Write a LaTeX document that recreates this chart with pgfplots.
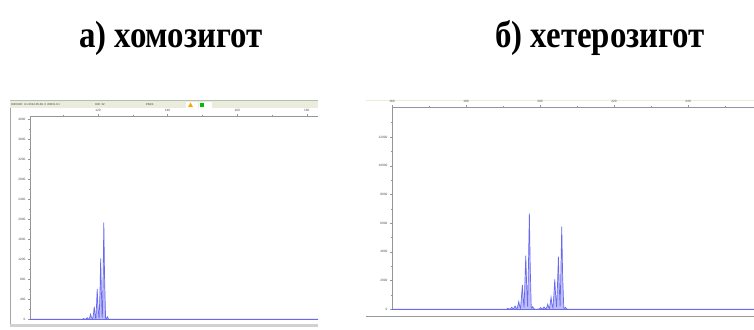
\documentclass[border=0pt]{standalone}
\usepackage{pgfplots}
\pgfplotsset{compat=1.18}
\usepackage{fontspec}
\setmainfont{Liberation Serif}
\newfontfamily\sansf{Liberation Sans}
\usepackage{graphicx}
\definecolor{trace}{RGB}{105,105,240}
\definecolor{tracefill}{RGB}{190,190,250}
\definecolor{hdr}{RGB}{236,236,222}
\definecolor{hdrline}{RGB}{175,195,170}
\definecolor{topline}{RGB}{240,236,210}
\pgfplotsset{egram/.style={
  scale only axis, anchor=south west,
  axis x line*=top, axis y line*=left,
  axis line style={-, draw={rgb,255:red,150;green,150;blue,150}, line width=0.5bp},
  tick style={draw={rgb,255:red,150;green,150;blue,150}, line width=0.35bp},
  major tick length=2bp, minor tick length=1.2bp, tick align=outside,
  tick label style={font=\sansf\fontsize{3.2}{3.2}\selectfont, text=black!70},
  xticklabel style={yshift=-1bp}, yticklabel style={xshift=1bp},
  /pgf/number format/assume math mode=true,
  /pgf/number format/1000 sep={},
  scaled ticks=false,
}}
\begin{document}
\begin{tikzpicture}
\useasboundingbox (0,0) rectangle (754bp,330bp);
\fill[white] (0,0) rectangle (754bp,330bp);
% titles
\node[font=\fontsize{33}{33}\selectfont\bfseries] at (171bp,292bp) {\scalebox{1}[1.15]{а) хомозигот}};
\node[font=\fontsize{33}{33}\selectfont\bfseries] at (600bp,292bp) {\scalebox{1}[1.15]{б) хетерозигот}};
% left screenshot frame
\fill[hdr] (9.5bp,221.7bp) rectangle (318bp,229bp);
\draw[hdrline, line width=0.9bp] (9.5bp,229.4bp) -- (318bp,229.4bp);
\fill[white] (186bp,222.3bp) rectangle (197.5bp,228.3bp);
\fill[white] (199bp,222.3bp) rectangle (212bp,228.3bp);
\fill[orange!70!yellow] (188bp,223bp) -- (193bp,223bp) -- (190.5bp,227.5bp) -- cycle;
\fill[green!75!black] (200bp,223bp) rectangle (204bp,227.3bp);
\node[font=\sansf\fontsize{2.8}{3}\selectfont, text=black!80, anchor=west, inner sep=0] at (11bp,225.4bp) {HID3130: 3.1 2012-05-09 .3 .00031.0.1};
\node[font=\sansf\fontsize{2.8}{3}\selectfont, text=black!80, anchor=west, inner sep=0] at (95bp,225.4bp) {HID: 32};
\node[font=\sansf\fontsize{2.8}{3}\selectfont, text=black!80, anchor=west, inner sep=0] at (146bp,225.4bp) {PASS};
\draw[black!35, line width=0.8bp] (10bp,221.7bp) -- (10bp,5.5bp);
\fill[black!18] (10bp,2.5bp) rectangle (318bp,5.5bp);
% right screenshot frame
\draw[topline, line width=0.9bp] (366bp,230bp) -- (754bp,230bp);
\draw[black!40, line width=0.7bp] (366bp,14bp) -- (754bp,14bp);

% left axis
\begin{axis}[egram, at={(30bp,9.7bp)}, width=288bp, height=204.5bp,
  xmin=100.5, xmax=183.2, ymin=-20, ymax=4070,
  xtick={120,140,160,180}, minor xtick={110,130,150,170},
  ytick={0,400,...,4000}, minor ytick={200,600,...,3800}]
\addplot[draw=trace, fill=tracefill, line width=0.7bp] coordinates {
(100.5,0) (115.45,0)
(115.7,7) (115.9,15) (116.1,7) (116.4,0)
(116.45,0) (116.7,14) (116.9,32) (117.1,14) (117.4,2)
(117.45,2) (117.7,45) (117.9,100) (118.1,45) (118.45,5)
(118.5,5) (118.75,113) (118.95,252) (119.15,113) (119.37,15)
(119.42,15) (119.6,270) (119.8,606) (120.0,270) (120.3,25)
(120.35,25) (120.6,550) (120.8,1220) (121.0,550) (121.22,40)
(121.27,40) (121.5,870) (121.7,1932) (121.9,870) (122.2,30)
(122.4,5) (122.55,30) (122.7,52) (122.85,30) (123.1,0)
(183.2,0)};
\addplot[draw=trace, line width=1bp] coordinates {(100.5,0) (183.2,0)};
\end{axis}

% right axis
\begin{axis}[egram, at={(392bp,19.7bp)}, width=362bp, height=203.3bp,
  xmin=160, xmax=257.8, ymin=-70, ymax=14090,
  xtick={160,180,...,240}, minor xtick={170,190,...,250},
  ytick={0,2000,...,12000}, minor ytick={1000,3000,...,13000}]
\addplot[draw=trace, fill=tracefill, line width=0.7bp] coordinates {
(160,0) (190.9,0)
(191.1,25) (191.35,60) (191.6,25) (191.9,10)
(192.1,60) (192.35,139) (192.6,60) (192.8,20)
(193.0,100) (193.24,230) (193.47,100) (193.78,40)
(193.98,230) (194.24,529) (194.48,230) (194.72,60)
(194.95,750) (195.22,1691) (195.45,750) (195.67,110)
(195.88,1650) (196.14,3731) (196.38,1650) (196.65,160)
(196.86,2950) (197.11,6682) (197.34,2950) (197.62,90)
(197.82,80) (198.03,181) (198.22,80) (198.5,10)
(199.2,0) (199.5,20) (199.7,0)
(199.95,50) (200.19,111) (200.4,50) (200.7,20)
(200.85,70) (201.08,160) (201.3,70) (201.62,35)
(201.84,150) (202.08,348) (202.3,150) (202.55,60)
(202.73,370) (202.97,835) (203.2,370) (203.47,100)
(203.72,920) (203.97,2088) (204.22,920) (204.47,160)
(204.7,1610) (204.95,3661) (205.18,1610) (205.42,200)
(205.62,2530) (205.86,5749) (206.08,2530) (206.4,90)
(206.6,60) (206.84,139) (207.05,60) (207.4,0)
(257.8,0)};
\addplot[draw=trace, line width=1bp] coordinates {(160,0) (257.8,0)};
\end{axis}
\end{tikzpicture}
\end{document}
